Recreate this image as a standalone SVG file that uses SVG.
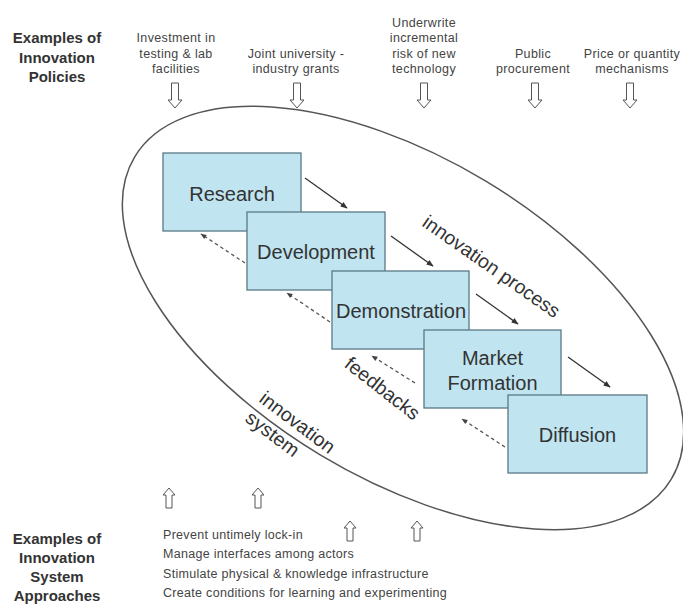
<svg xmlns="http://www.w3.org/2000/svg" xmlns:xlink="http://www.w3.org/1999/xlink" width="683" height="609" viewBox="0 0 683 609">
<style>
text{font-family:"Liberation Sans",Arial,sans-serif;}
.hd{font-size:15px;font-weight:bold;fill:#333;text-anchor:middle;}
.pol{font-size:12.5px;fill:#444;text-anchor:middle;letter-spacing:0.35px;}
.appr{font-size:12.5px;fill:#444;letter-spacing:0.3px;}
.box{fill:#c0e4f0;stroke:#5a7886;stroke-width:1.3;}
.lbl{font-size:20px;fill:#333;text-anchor:middle;}
.rot{font-size:19.5px;fill:#333;text-anchor:middle;}
.fw{stroke:#333;stroke-width:1.3;fill:none;}
.fb{stroke:#5a5555;stroke-width:1.3;stroke-dasharray:3.5 3;fill:none;}
.harr{fill:#fff;stroke:#555;stroke-width:1;}
</style>
<defs>
<marker id="ah" viewBox="0 0 10 10" refX="9" refY="5" markerWidth="8" markerHeight="7" markerUnits="userSpaceOnUse" orient="auto"><path d="M0,1 L10,5 L0,9 Z" fill="#333"/></marker>
<marker id="ahd" viewBox="0 0 10 10" refX="9" refY="5" markerWidth="7" markerHeight="6" markerUnits="userSpaceOnUse" orient="auto"><path d="M0,1 L10,5 L0,9 Z" fill="#444"/></marker>
<path id="darr" d="M-3.5,0 H3.5 V17 H7 L0,25 L-7,17 H-3.5 Z"/>
<path id="uarr" d="M0,0 L6,7 H3 V20 H-3 V7 H-6 Z"/>
</defs>
<rect width="683" height="609" fill="#fff"/>

<g id="policies-title">
<text class="hd" x="57" y="43">Examples of</text>
<text class="hd" x="57" y="62.5">Innovation</text>
<text class="hd" x="57" y="82">Policies</text>
</g>
<g id="policy-investment">
<text class="pol" x="176" y="42">Investment in</text>
<text class="pol" x="176" y="57.5">testing &amp; lab</text>
<text class="pol" x="176" y="73">facilities</text>
<use xlink:href="#darr" class="harr" x="175" y="83"/>
</g>
<g id="policy-grants">
<text class="pol" x="296" y="57.5">Joint university -</text>
<text class="pol" x="296" y="73">industry grants</text>
<use xlink:href="#darr" class="harr" x="297" y="83"/>
</g>
<g id="policy-underwrite">
<text class="pol" x="424" y="26.5">Underwrite</text>
<text class="pol" x="424" y="42">incremental</text>
<text class="pol" x="424" y="57.5">risk of new</text>
<text class="pol" x="424" y="73">technology</text>
<use xlink:href="#darr" class="harr" x="424" y="83"/>
</g>
<g id="policy-procurement">
<text class="pol" x="533" y="57.5">Public</text>
<text class="pol" x="533" y="73">procurement</text>
<use xlink:href="#darr" class="harr" x="535" y="83"/>
</g>
<g id="policy-price">
<text class="pol" x="632" y="57.5">Price or quantity</text>
<text class="pol" x="632" y="73">mechanisms</text>
<use xlink:href="#darr" class="harr" x="630" y="83"/>
</g>

<g id="innovation-system">
<ellipse cx="403" cy="318" rx="313" ry="160" transform="rotate(31 403 318)" fill="none" stroke="#555" stroke-width="1.5"/>
<g transform="translate(297,423) rotate(37)">
<text class="rot" x="0" y="6">innovation</text>
<text class="rot" x="-13" y="30">system</text>
</g>
</g>

<g id="research"><rect class="box" x="163" y="153" width="138" height="78"/><text class="lbl" x="232" y="201">Research</text></g>
<g id="development"><rect class="box" x="247" y="212" width="138" height="78"/><text class="lbl" x="316" y="259">Development</text></g>
<g id="demonstration"><rect class="box" x="332" y="271" width="137" height="78"/><text class="lbl" x="401" y="318">Demonstration</text></g>
<g id="market-formation"><rect class="box" x="424" y="330" width="137" height="78"/><text class="lbl" x="492.5" y="365">Market</text><text class="lbl" x="492.5" y="390">Formation</text></g>
<g id="diffusion"><rect class="box" x="508" y="395" width="139" height="78"/><text class="lbl" x="577.5" y="442">Diffusion</text></g>

<g id="connectors">
<line class="fw" x1="305" y1="178" x2="347" y2="208" marker-end="url(#ah)"/>
<line class="fw" x1="391" y1="236" x2="433" y2="266" marker-end="url(#ah)"/>
<line class="fw" x1="476" y1="294" x2="518" y2="324" marker-end="url(#ah)"/>
<line class="fw" x1="568" y1="357" x2="610" y2="387" marker-end="url(#ah)"/>
<line class="fb" x1="245" y1="263" x2="201" y2="234" marker-end="url(#ahd)"/>
<line class="fb" x1="330" y1="322" x2="287" y2="293" marker-end="url(#ahd)"/>
<line class="fb" x1="415" y1="383" x2="372" y2="356" marker-end="url(#ahd)"/>
<line class="fb" x1="505" y1="447" x2="462" y2="419" marker-end="url(#ahd)"/>
</g>

<g id="process-label" transform="translate(491,267) rotate(35)"><text class="rot" x="0" y="6">innovation process</text></g>
<g id="feedbacks-label" transform="translate(382,389) rotate(38)"><text class="rot" x="0" y="6">feedbacks</text></g>

<g id="approaches-title">
<text class="hd" x="57" y="544">Examples of</text>
<text class="hd" x="57" y="563">Innovation</text>
<text class="hd" x="57" y="582">System</text>
<text class="hd" x="57" y="601">Approaches</text>
</g>
<g id="approaches">
<use xlink:href="#uarr" class="harr" x="169" y="488"/>
<use xlink:href="#uarr" class="harr" x="258" y="488"/>
<use xlink:href="#uarr" class="harr" x="350" y="521"/>
<use xlink:href="#uarr" class="harr" x="417" y="521"/>
<text class="appr" x="163" y="539">Prevent untimely lock-in</text>
<text class="appr" x="163" y="558">Manage interfaces among actors</text>
<text class="appr" x="163" y="577.5">Stimulate physical &amp; knowledge infrastructure</text>
<text class="appr" x="163" y="597">Create conditions for learning and experimenting</text>
</g>
</svg>
